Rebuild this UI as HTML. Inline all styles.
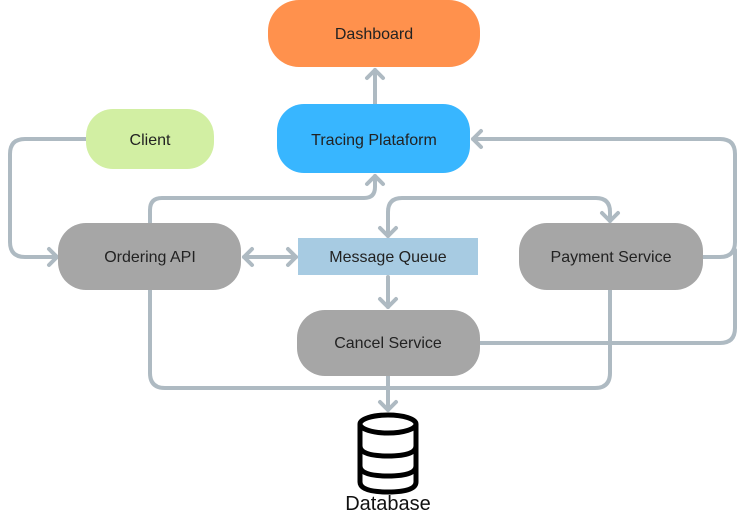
<!DOCTYPE html>
<html><head><meta charset="utf-8"><style>
html,body{margin:0;padding:0;background:#fff;}
svg{display:block;}
text{font-family:"Liberation Sans",sans-serif;font-size:16px;fill:#222;}
</style></head><body>
<svg width="745" height="521" viewBox="0 0 745 521" xmlns="http://www.w3.org/2000/svg">
<g fill="none" stroke="#AEBAC2" stroke-width="4" stroke-linecap="round" stroke-linejoin="round">
<path d="M86 139 H25 Q10 139 10 154 V242 Q10 257 25 257 H56"/>
<path d="M49 249 L57 257 L49 265"/>
<path d="M150 223 V210 Q150 198 162 198 H364 Q375 198 375 187 V176"/>
<path d="M367 184 L375 176 L383 184"/>
<path d="M375 104 V70"/>
<path d="M367 78 L375 70 L383 78"/>
<path d="M703 257 H720 Q735 257 735 242 V154 Q735 139 720 139 H473"/>
<path d="M481 131 L473 139 L481 147"/>
<path d="M480 343 H720 Q735 343 735 328 V250"/>
<path d="M244 257 H296"/>
<path d="M252 249 L244 257 L252 265"/>
<path d="M288 249 L296 257 L288 265"/>
<path d="M388 236 V212 Q388 198 402 198 H596 Q610 198 610 212 V221"/>
<path d="M380 228 L388 236 L396 228"/>
<path d="M602 213 L610 221 L618 213"/>
<path d="M388 277 V307"/>
<path d="M380 299 L388 307 L396 299"/>
<path d="M150 290 V373 Q150 388 165 388 H595 Q610 388 610 373 V290"/>
<path d="M388 376 V410"/>
<path d="M380 402 L388 410 L396 402"/>
</g>
<rect x="268" y="0" width="212" height="67" rx="31" fill="#FF914D"/>
<text x="374" y="39" text-anchor="middle">Dashboard</text>
<rect x="277" y="104" width="193" height="69" rx="27" fill="#38B6FF"/>
<text x="374" y="145" text-anchor="middle">Tracing Plataform</text>
<rect x="86" y="109" width="128" height="60" rx="27" fill="#D2EFA3"/>
<text x="150" y="145" text-anchor="middle">Client</text>
<rect x="58" y="223" width="183" height="67" rx="28" fill="#A6A6A6"/>
<text x="150" y="262" text-anchor="middle">Ordering API</text>
<rect x="298" y="238" width="180" height="37" fill="#A7CBE2"/>
<text x="388" y="262" text-anchor="middle">Message Queue</text>
<rect x="519" y="223" width="184" height="67" rx="28" fill="#A6A6A6"/>
<text x="611" y="262" text-anchor="middle">Payment Service</text>
<rect x="297" y="310" width="183" height="66" rx="28" fill="#A6A6A6"/>
<text x="388" y="348" text-anchor="middle">Cancel Service</text>
<g fill="none" stroke="#000" stroke-width="5">
<ellipse cx="388" cy="424" rx="28" ry="9"/>
<path d="M360 424 V482 Q360 492 388 492 Q416 492 416 482 V424"/>
<path d="M360 446 Q360 456 388 456 Q416 456 416 446"/>
<path d="M360 466 Q360 476 388 476 Q416 476 416 466"/>
</g>
<text x="388" y="510" text-anchor="middle" style="font-size:20px;fill:#111">Database</text>
</svg>
</body></html>
